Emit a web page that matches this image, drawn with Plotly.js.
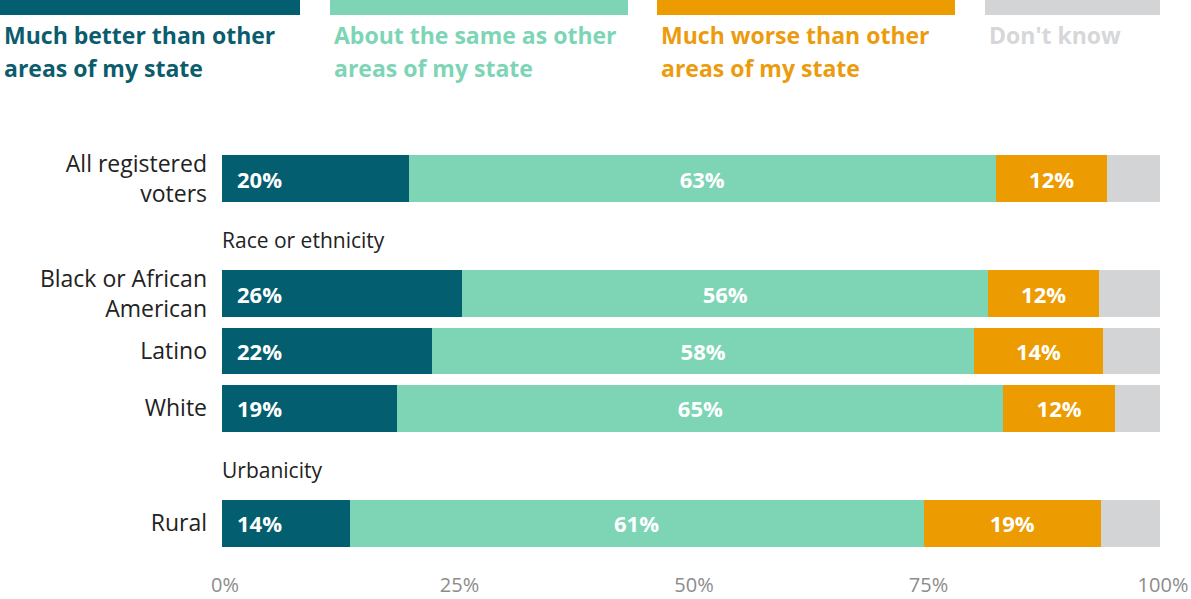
<!DOCTYPE html>
<html>
<head>
<meta charset="utf-8">
<script src="https://cdn.plot.ly/plotly-3.0.1.min.js"></script>
<style>html,body{margin:0;padding:0;background:#fff;}#chart{width:1191px;height:599px;}</style>
</head>
<body>
<div id="chart"></div>
<script>
// Rows (headers have no bars)
const rows = ["All registered voters", "Race or ethnicity", "Black or African American", "Latino", "White", "Urbanicity", "Rural"];
const rowLabels = ["All registered<br>voters", "", "Black or African<br>American", "Latino", "White", "", "Rural"];
const headerRows = ["Race or ethnicity", "Urbanicity"];

const seriesNames = ["Much better than other areas of my state", "About the same as other areas of my state", "Much worse than other areas of my state", "Don't know"];
const muchBetter = [19.9, null, 25.6, 22.4, 18.7, null, 13.6];
const aboutSame  = [62.6, null, 56.1, 57.8, 64.6, null, 61.2];
const muchWorse  = [11.9, null, 11.8, 13.7, 11.9, null, 18.9];
const dontKnow   = [5.6,  null, 6.5,  6.1,  4.8,  null, 6.3];

const xTicks = [0, 25, 50, 75, 100];
const xTickLabels = ["0%", "25%", "50%", "75%", "100%"];

const colors = ["#035e70", "#7dd5b6", "#ec9b00", "#d3d4d6"];
const legendTextColors = ["#0b5d6d", "#7dd5b6", "#eb9c0e", "#d6d7d9"];
const FONT = "'Open Sans', Lato, sans-serif";

const W = 1191, H = 599;
const M = {l: 222, r: 31, t: 150, b: 47};
const PW = W - M.l - M.r, PH = H - M.t - M.b;
const px2x = p => (p - M.l) / PW;
const py2y = p => (H - M.b - p) / PH;

function barTrace(vals, i, showText) {
  return {
    type: "bar", orientation: "h", name: seriesNames[i],
    y: rows, x: vals,
    marker: {color: colors[i], line: {width: 0}},
    text: showText ? vals.map(v => v == null ? "" : Math.round(v) + "%") : undefined,
    textposition: showText ? "inside" : "none",
    insidetextanchor: "middle",
    constraintext: "none",
    textfont: {family: FONT, size: 22, color: "#ffffff", weight: 700},
    hoverinfo: "skip", showlegend: false
  };
}

const data = [
  barTrace(muchBetter, 0, false),
  barTrace(aboutSame, 1, true),
  barTrace(muchWorse, 2, true),
  barTrace(dontKnow, 3, false)
];

const annotations = [];
// dark segment labels, anchored at the start of the bar
rows.forEach((r, k) => {
  if (muchBetter[k] != null) {
    annotations.push({x: 0, y: r, xref: "x", yref: "y", xanchor: "left", yanchor: "middle",
      xshift: 13, text: "<b>" + Math.round(muchBetter[k]) + "%</b>", showarrow: false,
      font: {family: FONT, size: 22, color: "#ffffff"}});
  }
});
// group headers
headerRows.forEach(h => {
  annotations.push({x: 0, y: h, xref: "x", yref: "y", xanchor: "left", yanchor: "middle",
    xshift: -2, yshift: -4, text: h, showarrow: false, font: {family: FONT, size: 21, color: "#222222"}});
});

// custom legend
const legendLines = [
  ["Much better than other", "areas of my state"],
  ["About the same as other", "areas of my state"],
  ["Much worse than other", "areas of my state"],
  ["Don't know"]
];
const legendX = [[0, 300], [330, 628], [657, 955], [985, 1160]];
const shapes = [];
legendX.forEach((lx, i) => {
  shapes.push({type: "rect", xref: "paper", yref: "paper", x0: px2x(lx[0]), x1: px2x(lx[1]),
    y0: py2y(15), y1: py2y(0), fillcolor: colors[i], line: {width: 0}});
  legendLines[i].forEach((t, j) => {
    annotations.push({x: px2x(lx[0]), y: py2y(35 + 33 * j), xref: "paper", yref: "paper",
      xanchor: "left", yanchor: "middle", xshift: 2, text: "<b>" + t + "</b>", showarrow: false,
      font: {family: FONT, size: 23, color: legendTextColors[i]}});
  });
});

const layout = {
  width: W, height: H,
  margin: M,
  paper_bgcolor: "#ffffff", plot_bgcolor: "#ffffff",
  barmode: "stack", bargap: 0.19,
  font: {family: FONT},
  xaxis: {range: [0, 100], showgrid: false, zeroline: false, showline: false,
    tickvals: xTicks, ticktext: xTickLabels, ticks: "", ticklabelstandoff: 19, ticklabelshift: 3,
    ticklabeloverflow: "allow",
    tickfont: {family: FONT, size: 20, color: "#8c8c8c"}, fixedrange: true},
  yaxis: {type: "category", categoryorder: "array", categoryarray: rows, autorange: "reversed",
    tickvals: rows, ticktext: rowLabels, showgrid: false, zeroline: false, showline: false,
    ticks: "", ticklabelstandoff: 14, tickfont: {family: FONT, size: 23, color: "#222222"}, fixedrange: true},
  shapes: shapes,
  annotations: annotations,
  showlegend: false
};

Plotly.newPlot("chart", data, layout, {displayModeBar: false, staticPlot: true});
</script>
</body>
</html>
